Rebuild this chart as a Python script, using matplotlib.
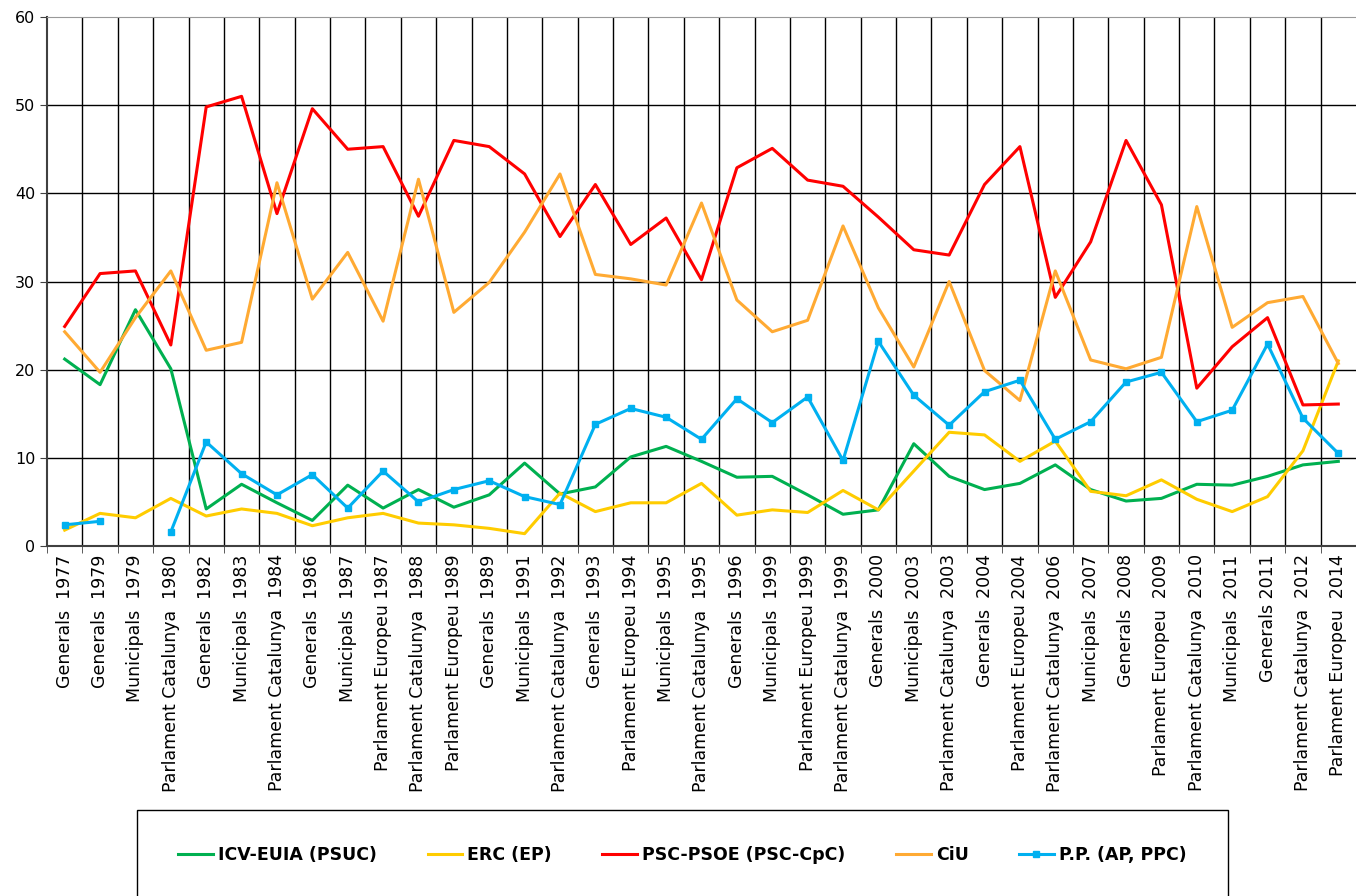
import numpy as np
import matplotlib
matplotlib.use("Agg")
import matplotlib.pyplot as plt
from matplotlib.patches import Rectangle

eleccions = [
    "Generals  1977", "Generals  1979", "Municipals  1979", "Parlament Catalunya  1980",
    "Generals  1982", "Municipals  1983", "Parlament Catalunya  1984", "Generals  1986",
    "Municipals  1987", "Parlament Europeu 1987", "Parlament Catalunya  1988",
    "Parlament Europeu 1989", "Generals  1989", "Municipals  1991", "Parlament Catalunya  1992",
    "Generals  1993", "Parlament Europeu 1994", "Municipals  1995", "Parlament Catalunya  1995",
    "Generals  1996", "Municipals  1999", "Parlament Europeu 1999", "Parlament Catalunya  1999",
    "Generals  2000", "Municipals  2003", "Parlament Catalunya  2003", "Generals  2004",
    "Parlament Europeu 2004", "Parlament Catalunya  2006", "Municipals  2007", "Generals  2008",
    "Parlament Europeu  2009", "Parlament Catalunya  2010", "Municipals  2011", "Generals 2011",
    "Parlament Catalunya  2012", "Parlament Europeu  2014",
]

icv = [21.2, 18.3, 26.8, 20.1, 4.2, 7.0, 4.9, 2.9, 6.9, 4.3, 6.4, 4.4, 5.8, 9.4, 5.9,
       6.7, 10.1, 11.3, 9.6, 7.8, 7.9, 5.8, 3.6, 4.1, 11.6, 7.9, 6.4, 7.1, 9.2, 6.4,
       5.1, 5.4, 7.0, 6.9, 7.9, 9.2, 9.6]
erc = [1.8, 3.7, 3.2, 5.4, 3.4, 4.2, 3.7, 2.3, 3.2, 3.7, 2.6, 2.4, 2.0, 1.4, 6.0,
       3.9, 4.9, 4.9, 7.1, 3.5, 4.1, 3.8, 6.3, 4.1, 8.5, 12.9, 12.6, 9.6, 11.9, 6.2,
       5.7, 7.5, 5.3, 3.9, 5.6, 10.8, 21.0]
psc = [24.9, 30.9, 31.2, 22.8, 49.8, 51.0, 37.7, 49.6, 45.0, 45.3, 37.4, 46.0, 45.3, 42.2, 35.1,
       41.0, 34.2, 37.2, 30.2, 42.9, 45.1, 41.5, 40.8, 37.3, 33.6, 33.0, 41.0, 45.3, 28.2, 34.5,
       46.0, 38.7, 17.9, 22.6, 25.9, 16.0, 16.1]
ciu = [24.3, 19.7, 25.9, 31.2, 22.2, 23.1, 41.2, 28.0, 33.3, 25.5, 41.6, 26.5, 29.9, 35.6, 42.2,
       30.8, 30.3, 29.6, 38.9, 27.9, 24.3, 25.6, 36.3, 27.0, 20.3, 30.0, 19.9, 16.5, 31.2, 21.1,
       20.1, 21.4, 38.5, 24.8, 27.6, 28.3, 20.7]
pp = [2.4, 2.8, np.nan, 1.6, 11.8, 8.2, 5.8, 8.1, 4.3, 8.5, 5.0, 6.4, 7.4, 5.6, 4.7,
      13.8, 15.6, 14.6, 12.1, 16.7, 14.0, 16.9, 9.7, 23.2, 17.1, 13.7, 17.5, 18.8, 12.1, 14.1,
      18.6, 19.7, 14.1, 15.4, 22.9, 14.5, 10.5]

fig = plt.figure(figsize=(13.56, 8.96), dpi=100)
ax = fig.add_axes([47 / 1356, 1 - 546 / 896, 1 - 47 / 1356, (546 - 17) / 896])

x = np.arange(len(eleccions))
lw = 2.2
ax.plot(x, icv, color="#00B050", lw=lw, label="ICV-EUIA (PSUC)", zorder=3)
ax.plot(x, erc, color="#FFCC00", lw=lw, label="ERC (EP)", zorder=3)
ax.plot(x, psc, color="#FF0000", lw=lw, label="PSC-PSOE (PSC-CpC)", zorder=3)
ax.plot(x, ciu, color="#FFAA33", lw=lw, label="CiU", zorder=3)
ax.plot(x, pp, color="#00B0F0", lw=lw, marker="s", markersize=5, label="P.P. (AP, PPC)", zorder=4)

ax.set_xlim(-0.5, len(eleccions) - 0.5)
ax.set_ylim(0, 60)
ax.set_yticks(range(0, 61, 10))

# grid: horizontal at every 10, vertical between categories
for yv in range(10, 60, 10):
    ax.axhline(yv, color="#000000", lw=1.0, zorder=1)
for xv in np.arange(0.5, len(eleccions) - 0.5, 1):
    ax.axvline(xv, color="#000000", lw=1.0, zorder=1)

ax.set_xticks(x)
ax.set_xticklabels(eleccions, rotation=90, fontsize=12.5, va="top", ha="center")
ax.tick_params(axis="x", length=0, pad=6)
ax.set_xticks(np.arange(-0.5, len(eleccions), 1), minor=True)
ax.tick_params(axis="x", which="minor", length=5, color="#404040")
ax.tick_params(axis="y", labelsize=11.5, length=5, color="#404040")

ax.spines["top"].set_color("#999999")
ax.spines["right"].set_visible(False)
ax.spines["left"].set_color("#404040")
ax.spines["bottom"].set_color("#404040")
ax.spines["left"].set_linewidth(1.5)
ax.spines["bottom"].set_linewidth(1.5)

# legend box
fig.patches.append(Rectangle((137 / 1356, -0.01), (1228 - 137) / 1356, (896 - 810) / 896 + 0.01,
                             transform=fig.transFigure, fill=False, edgecolor="black", lw=1.0))
handles, labels = ax.get_legend_handles_labels()
leg = fig.legend(handles, labels, loc="center", bbox_to_anchor=((137 + 1228) / 2 / 1356, 1 - 855 / 896),
                 ncol=5, frameon=False, prop={"weight": "bold", "size": 12.5},
                 handlelength=2.0, handletextpad=0.3, columnspacing=2.9)

fig.savefig("out.png", dpi=100)
